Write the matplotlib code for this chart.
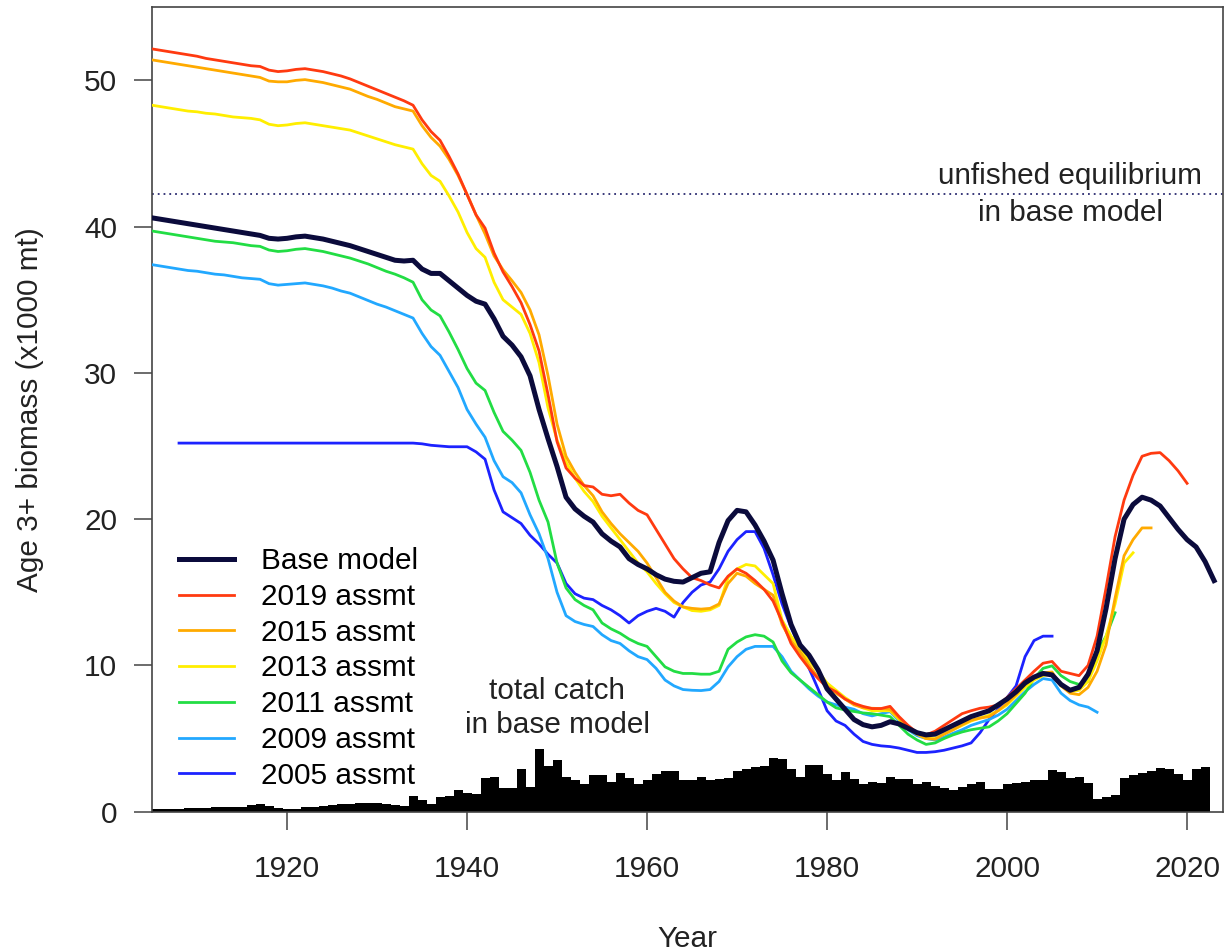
import numpy as np
import matplotlib
matplotlib.use("Agg")
import matplotlib.pyplot as plt

plt.rcParams['font.family'] = ['Liberation Sans', 'DejaVu Sans']

# Age 3+ biomass (x1000 mt), one value per year from the start year
base_start = 1905
base_model = [
    40.6, 40.5, 40.4, 40.3, 40.2, 40.1, 40.0, 39.9, 39.8, 39.7,
    39.6, 39.5, 39.4, 39.2, 39.15, 39.2, 39.3, 39.35, 39.25, 39.15,
    39.0, 38.85, 38.7, 38.5, 38.3, 38.1, 37.9, 37.7, 37.65, 37.7,
    37.1, 36.8, 36.8, 36.3, 35.8, 35.3, 34.9, 34.7, 33.7, 32.5,
    31.9, 31.1, 29.8, 27.5, 25.5, 23.6, 21.5, 20.7, 20.2, 19.8,
    19.0, 18.5, 18.1, 17.3, 16.9, 16.6, 16.2, 15.9, 15.75, 15.7,
    16.0, 16.3, 16.4, 18.4, 19.9, 20.6, 20.5, 19.6, 18.5, 17.2,
    14.9, 12.8, 11.4, 10.7, 9.7, 8.4, 7.7, 7.0, 6.3, 5.95,
    5.8, 5.9, 6.15, 6.0, 5.7, 5.4, 5.25, 5.3, 5.6, 5.9,
    6.2, 6.5, 6.7, 6.9, 7.3, 7.7, 8.2, 8.8, 9.2, 9.45,
    9.35, 8.7, 8.3, 8.5, 9.4, 11.0, 13.9, 17.3, 20.0, 21.0,
    21.5, 21.3, 20.9, 20.1, 19.3, 18.6, 18.1, 17.1, 15.8,
]

assmt_2019_start = 1905
assmt_2019 = [
    52.15, 52.05, 51.95, 51.85, 51.75, 51.65, 51.5, 51.4, 51.3, 51.2,
    51.1, 51.0, 50.95, 50.7, 50.6, 50.65, 50.75, 50.8, 50.7, 50.6,
    50.45, 50.3, 50.1, 49.85, 49.6, 49.35, 49.1, 48.85, 48.6, 48.3,
    47.3, 46.5, 45.9, 44.8, 43.6, 42.2, 40.8, 39.9, 38.2, 36.9,
    35.9, 34.8, 33.3, 31.5, 28.5, 25.3, 23.5, 22.8, 22.3, 22.2,
    21.7, 21.6, 21.7, 21.1, 20.6, 20.3, 19.3, 18.3, 17.3, 16.6,
    16.0, 15.8, 15.5, 15.3, 16.1, 16.6, 16.3, 15.8, 15.2, 14.4,
    13.0, 11.5, 10.6, 9.8, 9.1, 8.5, 8.2, 7.7, 7.4, 7.2,
    7.05, 7.05, 7.2, 6.5, 5.9, 5.4, 5.25, 5.5, 5.9, 6.3,
    6.7, 6.9, 7.07, 7.15, 7.3, 7.8, 8.4, 9.0, 9.6, 10.15,
    10.27, 9.6, 9.45, 9.3, 10.0, 12.0, 15.3, 18.8, 21.3, 23.0,
    24.3, 24.5, 24.55, 24.0, 23.3, 22.45,
]

assmt_2015_start = 1905
assmt_2015 = [
    51.4, 51.3, 51.2, 51.1, 51.0, 50.9, 50.8, 50.7, 50.6, 50.5,
    50.4, 50.3, 50.2, 49.95, 49.9, 49.9, 50.0, 50.05, 49.95, 49.85,
    49.7, 49.55, 49.4, 49.15, 48.9, 48.7, 48.45, 48.2, 48.05, 47.9,
    46.9, 46.1, 45.5, 44.6, 43.5, 42.2, 40.8, 39.5, 38.0, 37.05,
    36.3, 35.5, 34.3, 32.6, 29.8, 26.5, 24.3, 23.2, 22.3, 21.6,
    20.5, 19.7, 19.0, 18.4, 17.8, 17.0, 16.0, 15.0, 14.4, 14.0,
    13.9, 13.85, 13.9, 14.2, 15.6, 16.3, 16.1, 15.6, 15.2, 14.8,
    12.8, 11.7, 10.9, 10.0, 9.2, 8.6, 8.1, 7.7, 7.3, 7.1,
    7.07, 7.05, 7.0, 6.4, 5.7, 5.3, 5.0, 4.95, 5.3, 5.6,
    5.95, 6.25, 6.4, 6.5, 6.9, 7.4, 8.0, 8.7, 9.2, 9.5,
    9.55, 8.6, 8.1, 8.0, 8.5, 9.6, 11.4, 14.6, 17.5, 18.6,
    19.4, 19.4,
]

assmt_2013_start = 1905
assmt_2013 = [
    48.3, 48.2, 48.1, 48.0, 47.9, 47.85, 47.75, 47.7, 47.6, 47.5,
    47.45, 47.4, 47.3, 47.0, 46.9, 46.95, 47.05, 47.1, 47.0, 46.9,
    46.8, 46.7, 46.6, 46.4, 46.2, 46.0, 45.8, 45.6, 45.45, 45.3,
    44.3, 43.5, 43.1, 42.1, 41.0, 39.6, 38.5, 37.9, 36.2, 35.0,
    34.5, 34.0, 32.7, 30.7, 27.6, 25.4, 23.9, 22.8, 21.9, 21.2,
    20.2, 19.4, 18.6, 17.8, 17.0, 16.4, 15.6, 14.9, 14.3, 14.0,
    13.75, 13.7, 13.8, 14.1, 16.0, 16.6, 16.9, 16.8, 16.2, 15.6,
    13.1, 12.0, 11.2, 10.3, 9.6, 8.8, 8.3, 7.8, 7.4, 7.1,
    6.9, 6.9, 6.9, 6.3, 5.7, 5.3, 5.0, 5.0, 5.3, 5.6,
    5.9, 6.2, 6.4, 6.6, 6.9, 7.3, 7.9, 8.5, 9.0, 9.3,
    9.4, 8.6, 8.2, 8.3, 8.9, 10.3, 12.0, 14.2, 17.0, 17.7,
]

assmt_2011_start = 1905
assmt_2011 = [
    39.7, 39.6, 39.5, 39.4, 39.3, 39.2, 39.1, 39.0, 38.95, 38.9,
    38.8, 38.7, 38.65, 38.4, 38.3, 38.35, 38.45, 38.5, 38.4, 38.3,
    38.15, 38.0, 37.85, 37.65, 37.45, 37.2, 36.95, 36.75, 36.5, 36.2,
    35.0, 34.3, 33.9, 32.8, 31.6, 30.3, 29.3, 28.8, 27.3, 26.0,
    25.4, 24.7, 23.2, 21.3, 19.8, 17.0, 15.3, 14.5, 14.1, 13.8,
    12.9, 12.5, 12.2, 11.8, 11.5, 11.3, 10.6, 9.9, 9.6, 9.45,
    9.45, 9.4, 9.4, 9.6, 11.1, 11.6, 11.95, 12.1, 12.0, 11.6,
    10.3, 9.5, 9.0, 8.5, 8.0, 7.5, 7.1, 6.95, 6.85, 6.75,
    6.7, 6.6, 6.5, 5.9, 5.3, 4.9, 4.6, 4.7, 5.0, 5.25,
    5.45, 5.6, 5.7, 5.8, 6.2, 6.7, 7.4, 8.1, 9.1, 9.8,
    9.97, 9.3, 8.9, 8.7, 8.9, 10.9, 12.0, 13.6,
]

assmt_2009_start = 1905
assmt_2009 = [
    37.4, 37.3, 37.2, 37.1, 37.0, 36.95, 36.85, 36.75, 36.7, 36.6,
    36.5, 36.45, 36.4, 36.1, 36.0, 36.05, 36.1, 36.15, 36.05, 35.95,
    35.8, 35.6, 35.45, 35.2, 34.95, 34.7, 34.5, 34.25, 34.0, 33.75,
    32.7, 31.8, 31.2, 30.1, 29.0, 27.5, 26.5, 25.6, 24.0, 22.9,
    22.5, 21.8, 20.3, 19.0, 17.3, 15.0, 13.4, 13.0, 12.8, 12.66,
    12.1, 11.7, 11.5, 11.0, 10.6, 10.4, 9.8, 9.0, 8.6, 8.35,
    8.3, 8.28, 8.35, 8.9, 9.9, 10.6, 11.1, 11.3, 11.3, 11.3,
    10.6, 9.6, 9.0, 8.4, 7.9, 7.5, 7.3, 7.15, 7.0, 6.7,
    6.55, 6.7, 6.84, 6.2, 5.6, 5.2, 5.0, 4.9, 5.1, 5.36,
    5.6, 5.9, 6.1, 6.3, 6.6, 7.0, 7.6, 8.2, 8.7, 9.1,
    9.0, 8.1, 7.6, 7.3, 7.15, 6.8,
]

assmt_2005_start = 1908
assmt_2005 = [
    25.2, 25.2, 25.2, 25.2, 25.2, 25.2, 25.2, 25.2, 25.2, 25.2,
    25.2, 25.2, 25.2, 25.2, 25.2, 25.2, 25.2, 25.2, 25.2, 25.2,
    25.2, 25.2, 25.2, 25.2, 25.2, 25.2, 25.2, 25.15, 25.05, 25.0,
    24.95, 24.95, 24.95, 24.6, 24.1, 22.0, 20.5, 20.1, 19.7, 18.9,
    18.3, 17.6, 17.0, 15.6, 14.9, 14.6, 14.5, 14.1, 13.8, 13.4,
    12.9, 13.4, 13.7, 13.9, 13.7, 13.3, 14.3, 15.0, 15.5, 15.7,
    16.6, 17.8, 18.6, 19.15, 19.15, 18.0, 16.2, 14.2, 12.6, 11.2,
    9.8, 8.4, 6.9, 6.2, 5.9, 5.3, 4.8, 4.6, 4.5, 4.45,
    4.35, 4.2, 4.05, 4.05, 4.1, 4.2, 4.35, 4.5, 4.7, 5.4,
    6.3, 7.0, 7.8, 8.6, 10.6, 11.7, 12.0, 12.0,
]

# total catch in base model (x1000 mt)
catch_start = 1905
total_catch = [
    0.2, 0.2, 0.2, 0.2, 0.25, 0.25, 0.25, 0.3, 0.3, 0.3,
    0.35, 0.45, 0.5, 0.4, 0.25, 0.15, 0.2, 0.3, 0.35, 0.4,
    0.45, 0.5, 0.55, 0.6, 0.62, 0.6, 0.55, 0.45, 0.4, 1.1,
    0.8, 0.5, 1.0, 1.1, 1.5, 1.3, 1.2, 2.3, 2.4, 1.6,
    1.6, 2.9, 1.7, 4.3, 3.1, 3.5, 2.4, 2.2, 1.9, 2.5,
    2.5, 2.05, 2.65, 2.3, 1.9, 2.2, 2.6, 2.75, 2.75, 2.2,
    2.2, 2.4, 2.2, 2.25, 2.3, 2.8, 2.95, 3.05, 3.1, 3.7,
    3.6, 2.9, 2.4, 3.2, 3.2, 2.6, 2.2, 2.7, 2.25, 1.9,
    2.0, 1.95, 2.35, 2.25, 2.25, 1.9, 2.05, 1.76, 1.64, 1.5,
    1.7, 1.9, 2.0, 1.55, 1.55, 1.9, 1.94, 2.0, 2.17, 2.2,
    2.85, 2.7, 2.3, 2.35, 1.95, 0.9, 0.98, 1.15, 2.3, 2.5,
    2.67, 2.8, 2.96, 2.9, 2.6, 2.17, 2.9, 3.08,
]

unfished_b0 = 42.2

# label, start year, values, colour, width (drawn in this order, base last)
series = [
    ("2005 assmt", assmt_2005_start, assmt_2005, "#1c22ff", 2.0),
    ("2009 assmt", assmt_2009_start, assmt_2009, "#22a8ff", 2.0),
    ("2011 assmt", assmt_2011_start, assmt_2011, "#22dd44", 2.0),
    ("2013 assmt", assmt_2013_start, assmt_2013, "#ffee00", 2.0),
    ("2015 assmt", assmt_2015_start, assmt_2015, "#ffaa00", 2.0),
    ("2019 assmt", assmt_2019_start, assmt_2019, "#ff3a10", 2.0),
    ("Base model", base_start, base_model, "#0b0b3c", 3.6),
]

FS = 21.4

fig = plt.figure(figsize=(12.27, 9.51), dpi=100)
ax = fig.add_axes([0.1239, 0.1465, 0.8729, 0.8459])

ax.axhline(unfished_b0, color="#2a2a70", lw=1.3, ls=(0, (1, 2.2)), zorder=1)

cyears = np.arange(catch_start, catch_start + len(total_catch))
ax.bar(cyears, total_catch, width=1.0, color="black", linewidth=0, zorder=2)

handles = {}
for label, start, vals, col, lw in series:
    yrs = np.arange(start, start + len(vals))
    h, = ax.plot(yrs, vals, color=col, lw=lw, zorder=3, solid_joinstyle="round")
    handles[label] = h

order = ["Base model", "2019 assmt", "2015 assmt", "2013 assmt",
         "2011 assmt", "2009 assmt", "2005 assmt"]
ax.legend([handles[k] for k in order], order, loc="center left",
          bbox_to_anchor=(0.0252, 0.178), frameon=False, fontsize=FS,
          handlelength=1.85, handletextpad=0.92, labelspacing=0.26,
          borderpad=0, borderaxespad=0)

ax.text(2007.0, unfished_b0, "unfished equilibrium\nin base model",
        ha="center", va="center", fontsize=FS, color="#222222", linespacing=1.4)
ax.text(1950.0, 7.1, "total catch\nin base model",
        ha="center", va="center", fontsize=FS, color="#222222", linespacing=1.3)

ax.set_xlim(1905, 2024)
ax.set_ylim(0, 55)
ax.set_xticks([1920, 1940, 1960, 1980, 2000, 2020])
ax.set_yticks([0, 10, 20, 30, 40, 50])
ax.tick_params(direction="out", length=13, width=1.1, color="#444444",
               labelsize=FS, labelcolor="#222222")
ax.tick_params(axis="x", pad=18)
ax.tick_params(axis="y", pad=12)
for s in ax.spines.values():
    s.set_color("#444444")
    s.set_linewidth(1.2)

fig.text(30 / 1227, 1 - 409.5 / 951, "Age 3+ biomass (x1000 mt)", rotation=90,
         ha="center", va="center", fontsize=FS, color="#222222")
fig.text(687 / 1227, 1 - 947 / 951, "Year", ha="center", va="baseline",
         fontsize=FS, color="#222222")

fig.savefig("out.png", dpi=100)
